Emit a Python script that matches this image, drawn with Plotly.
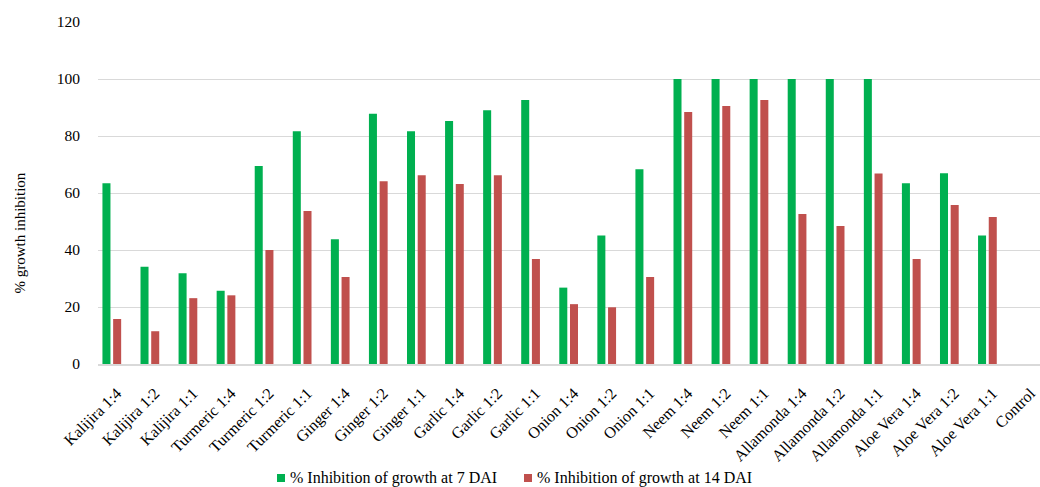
import plotly.graph_objects as go

# Treatment labels (x categories)
treatments = [
    "Kalijira 1:4", "Kalijira 1:2", "Kalijira 1:1",
    "Turmeric 1:4", "Turmeric 1:2", "Turmeric 1:1",
    "Ginger 1:4", "Ginger 1:2", "Ginger 1:1",
    "Garlic 1:4", "Garlic 1:2", "Garlic 1:1",
    "Onion 1:4", "Onion 1:2", "Onion 1:1",
    "Neem 1:4", "Neem 1:2", "Neem 1:1",
    "Allamonda 1:4", "Allamonda 1:2", "Allamonda 1:1",
    "Aloe Vera 1:4", "Aloe Vera 1:2", "Aloe Vera 1:1",
    "Control",
]

# % growth inhibition at 7 days after inoculation
inhibition_7dai = [
    63.4, 34.1, 31.8,
    25.7, 69.5, 81.7,
    43.8, 87.8, 81.7,
    85.3, 89.0, 92.6,
    26.8, 45.1, 68.3,
    100.0, 100.0, 100.0,
    100.0, 100.0, 100.0,
    63.4, 66.9, 45.1,
    0.0,
]

# % growth inhibition at 14 days after inoculation
inhibition_14dai = [
    15.8, 11.5, 23.1,
    24.1, 40.0, 53.7,
    30.5, 64.1, 66.2,
    63.2, 66.2, 36.8,
    21.0, 19.9, 30.5,
    88.4, 90.5, 92.6,
    52.6, 48.4, 66.8,
    36.8, 55.8, 51.6,
    0.0,
]

series_names = ["% Inhibition of growth at 7 DAI", "% Inhibition of growth at 14 DAI"]
series_colors = ["#00B050", "#C0504D"]
y_ticks = [0, 20, 40, 60, 80, 100, 120]
y_title = "% growth inhibition"

FONT = "Liberation Serif, Times New Roman, serif"
W, H = 1040, 487
ML, MR, MT, MB = 98, 0, 22, 123
PW, PH = W - ML - MR, H - MT - MB

fig = go.Figure()
for name, vals, col in zip(series_names, [inhibition_7dai, inhibition_14dai], series_colors):
    fig.add_trace(go.Bar(
        x=treatments, y=vals, name=name,
        marker=dict(color=col, line=dict(width=0)),
        showlegend=False,
    ))

# category spacing in pixels and the visible category window
cat_px = 38.07
x0 = -(111.8 - ML) / cat_px
x1 = x0 + PW / cat_px


def px_x(p):
    return (p - ML) / PW


def px_y(p):
    return (H - MB - p) / PH


# legend drawn below the plot: colour swatch + label
legend_pos = [(277, 288), (524, 535)]
shapes = []
annotations = []
for (sq_x, tx_x), name, col in zip(legend_pos, series_names, series_colors):
    shapes.append(dict(
        type="rect", xref="paper", yref="paper",
        x0=px_x(sq_x), x1=px_x(sq_x + 8), y0=px_y(482), y1=px_y(474),
        fillcolor=col, line=dict(width=0),
    ))
    annotations.append(dict(
        text=name, xref="paper", yref="paper", x=px_x(tx_x), y=px_y(478),
        xanchor="left", yanchor="middle", showarrow=False,
        font=dict(family=FONT, size=16, color="#000000"),
    ))

annotations.append(dict(
    text=y_title, xref="paper", yref="paper", x=px_x(19), y=px_y(233.5),
    xanchor="center", yanchor="middle", textangle=-90, showarrow=False,
    font=dict(family=FONT, size=15, color="#000000"),
))

fig.update_layout(
    width=W, height=H,
    margin=dict(l=ML, r=MR, t=MT, b=MB, pad=0),
    paper_bgcolor="white", plot_bgcolor="white",
    barmode="group", bargap=0.438, bargroupgap=0.25,
    font=dict(family=FONT, size=15, color="#000000"),
    shapes=shapes, annotations=annotations,
    showlegend=False,
)
fig.update_xaxes(
    type="category", range=[x0, x1],
    tickangle=-45, tickfont=dict(family=FONT, size=16, color="#000000"),
    ticklabelstandoff=12, ticklabelshift=5,
    showgrid=False, showline=True, linecolor="#d9d9d9", linewidth=1.5,
    ticks="", zeroline=False,
)
fig.update_yaxes(
    range=[0, 120], tickvals=y_ticks,
    showgrid=True, gridcolor="#d9d9d9", gridwidth=1,
    zeroline=False, showline=False, ticks="",
    ticklabelstandoff=17,
    tickfont=dict(family=FONT, size=15.5, color="#000000"),
)

fig.write_html("out.html")
